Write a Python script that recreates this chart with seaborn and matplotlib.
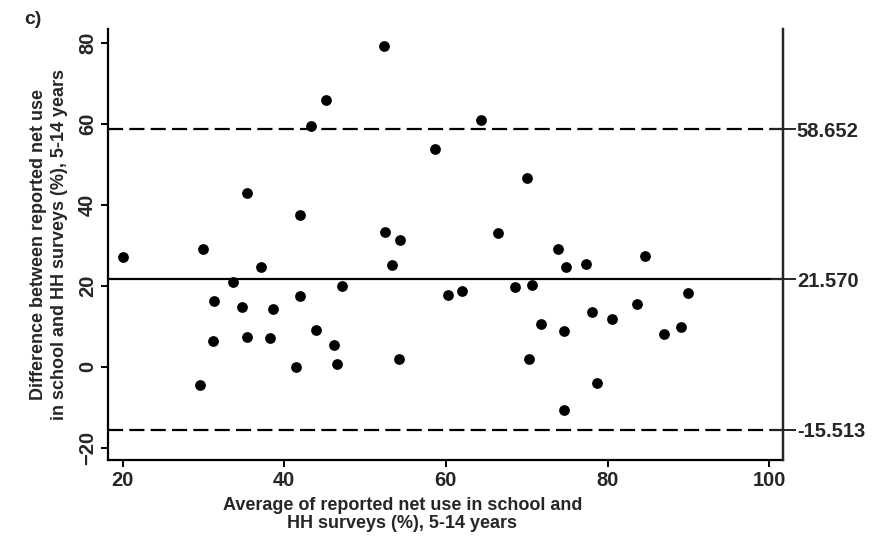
import numpy as np
import matplotlib
matplotlib.use('Agg')
import matplotlib.pyplot as plt
import pandas as pd
import seaborn as sns

# Datos (promedio, diferencia)
avg_use = [20.1, 29.9, 29.6, 31.3, 31.2, 33.7, 34.8, 35.4, 35.4, 37.1,
           38.6, 38.3, 41.5, 42.0, 42.0, 43.3, 43.9, 45.2, 46.1, 46.5,
           47.2, 52.3, 52.5, 53.3, 54.3, 54.2, 58.6, 60.3, 62.0, 64.4,
           66.5, 68.6, 70.0, 70.6, 70.3, 71.8, 73.9, 74.9, 74.6, 74.6,
           77.3, 78.1, 78.7, 80.6, 83.7, 84.6, 87.0, 89.1, 90.0]
diff_use = [27.0, 29.0, -4.4, 16.2, 6.3, 21.0, 14.8, 42.8, 7.4, 24.7,
            14.2, 7.2, 0.0, 37.5, 17.4, 59.4, 9.1, 65.8, 5.3, 0.7,
            19.9, 79.3, 33.2, 25.1, 31.4, 1.9, 53.7, 17.7, 18.7, 61.0,
            33.0, 19.7, 46.7, 20.1, 2.0, 10.6, 29.0, 24.7, 8.8, -10.6,
            25.3, 13.6, -3.9, 11.7, 15.4, 27.3, 8.2, 9.9, 18.2]
mean_diff = 21.570
upper_loa = 58.652
lower_loa = -15.513
x_ticks = [20, 40, 60, 80, 100]
y_ticks = [-20, 0, 20, 40, 60, 80]

df = pd.DataFrame({'avg': avg_use, 'diff': diff_use})

sns.set_style('ticks')
plt.rcParams['font.family'] = ['Liberation Sans', 'DejaVu Sans']
plt.rcParams['font.weight'] = 'bold'

fig = plt.figure(figsize=(8.83, 5.37), dpi=100)
ax = fig.add_axes([0.1223, 0.1434, 0.7644, 0.8026])

sns.scatterplot(data=df, x='avg', y='diff', ax=ax, color='black',
                s=60, edgecolor='black', linewidth=0, zorder=3)

ax.axhline(mean_diff, color='black', lw=1.6)
for v in (upper_loa, lower_loa):
    ax.axhline(v, color='black', lw=1.6, dashes=(6.8, 2.8))

ax.set_xlim(18.2, 101.7)
ax.set_ylim(-23, 83.4)
ax.set_xticks(x_ticks)
ax.set_yticks(y_ticks)
ax.tick_params(axis='both', direction='out', length=5, width=1.4,
               labelsize=14.5, color='black', pad=3)
ax.tick_params(axis='y', labelrotation=90)
for lab in ax.get_yticklabels():
    lab.set_va('center')
ax.spines['top'].set_visible(False)
for s in ('left', 'bottom', 'right'):
    ax.spines[s].set_linewidth(1.6)
    ax.spines[s].set_color('black')

ax.set_xlabel('Average of reported net use in school and\nHH surveys (%), 5-14 years',
              fontsize=13, linespacing=1.1, fontweight='bold')
ax.xaxis.set_label_coords(0.436, -0.086, transform=ax.transAxes)
ax.xaxis.label.set_va('top')
ax.set_ylabel('Difference between reported net use\nin school and HH surveys (%), 5-14 years',
              fontsize=13, linespacing=1.3, fontweight='bold')
ax.yaxis.set_label_coords(-0.059, 0.5)

ax2 = ax.twinx()
ax2.set_ylim(ax.get_ylim())
ax2.set_yticks([upper_loa, mean_diff, lower_loa])
ax2.set_yticklabels(['58.652', '21.570', '-15.513'])
ax2.tick_params(axis='y', direction='inout', length=18, width=1.4,
                labelsize=14.5, pad=1)
for s in ('top', 'left', 'bottom'):
    ax2.spines[s].set_visible(False)
ax2.spines['right'].set_linewidth(1.6)

fig.text(0.028, 0.955, 'c)', fontsize=14, fontweight='bold')

plt.savefig('out.png', dpi=100)
